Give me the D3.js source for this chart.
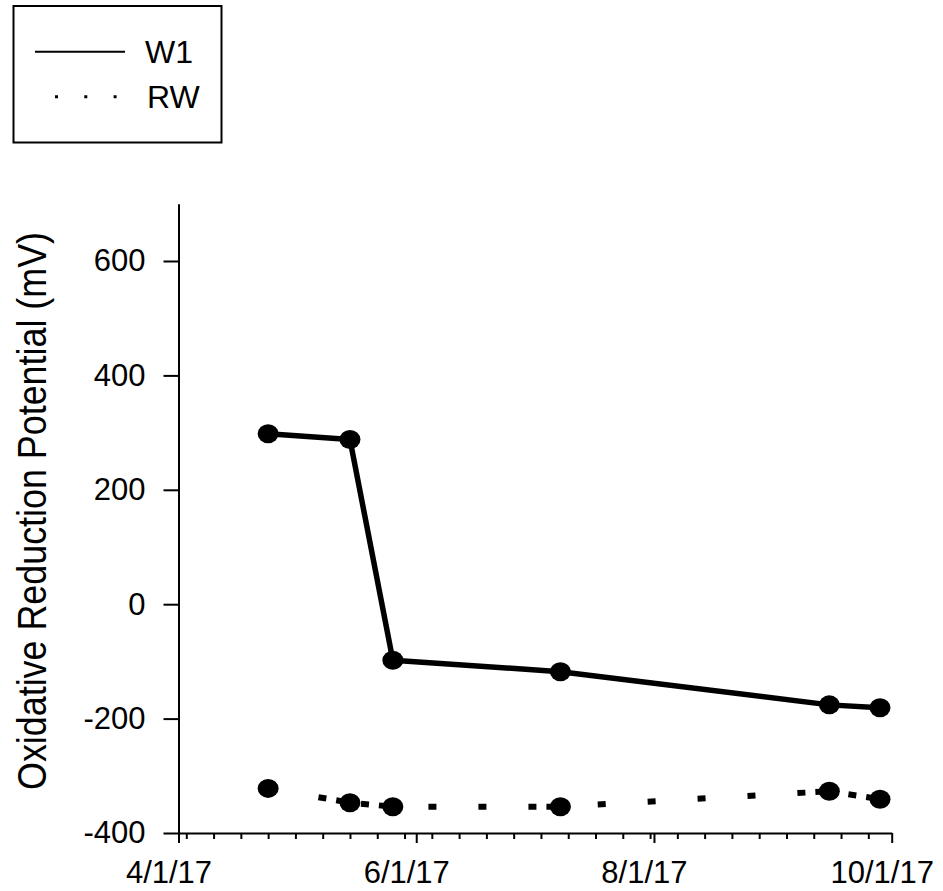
<!DOCTYPE html>
<html>
<head>
<meta charset="utf-8">
<script src="https://cdn.jsdelivr.net/npm/d3@7"></script>
<style>
  html, body { margin: 0; padding: 0; background: #fff; }
  svg { display: block; font-family: "Liberation Sans", Arial, sans-serif; }
</style>
</head>
<body>
<svg id="chart" width="943" height="891"></svg>
<script>
// ---- data ----
const sampleDates = ["2017-04-24", "2017-05-15", "2017-05-26", "2017-07-08", "2017-09-15", "2017-09-28"];
const w1Values = [298, 288, -98, -118, -176, -181];
const rwValues = [-322, -347, -354, -354, -327, -341];
const seriesNames = ["W1", "RW"];
const yTickValues = [-400, -200, 0, 200, 400, 600];
const xTickLabels = ["4/1/17", "6/1/17", "8/1/17", "10/1/17"];
const yTitle = "Oxidative Reduction Potential (mV)";

const parseDay = s => { const [y, m, d] = s.split("-").map(Number); return new Date(y, m - 1, d); };
const parseLabel = s => { const [m, d, y] = s.split("/").map(Number); return new Date(2000 + y, m - 1, d); };
const dates = sampleDates.map(parseDay);
const majorDates = xTickLabels.map(parseLabel);

const svg = d3.select("#chart");

const x = d3.scaleTime()
  .domain([majorDates[0], majorDates[majorDates.length - 1]])
  .range([178.5, 891.7]);
const y = d3.scaleLinear().domain([-400, 700]).range([833, 203.8]);

// ---- y axis ----
const yAxis = svg.append("g")
  .attr("transform", `translate(${x.range()[0]},0)`)
  .call(d3.axisLeft(y).tickValues(yTickValues).tickSize(15).tickPadding(18).tickSizeOuter(0)
    .tickFormat(d => String(d)));
yAxis.select(".domain").attr("stroke", "#000").attr("stroke-width", 2);
yAxis.selectAll(".tick line").attr("stroke", "#000").attr("stroke-width", 2);
yAxis.selectAll(".tick text")
  .attr("font-size", 31).attr("fill", "#000")
  .attr("font-family", "Liberation Sans, Arial, sans-serif");

// ---- x axis: minor weekly ticks ----
const minorDates = d3.timeMonday.range(x.domain()[0], x.domain()[1]);
const xMinor = svg.append("g")
  .attr("transform", `translate(0,${y.range()[0]})`)
  .call(d3.axisBottom(x).tickValues(minorDates).tickSize(6).tickFormat("").tickSizeOuter(0));
xMinor.select(".domain").remove();
xMinor.selectAll(".tick line").attr("stroke", "#000").attr("stroke-width", 2);

// ---- x axis: major ticks ----
const xAxis = svg.append("g")
  .attr("transform", `translate(0,${y.range()[0]})`)
  .call(d3.axisBottom(x).tickValues(majorDates).tickSize(10).tickSizeOuter(0)
    .tickFormat((d, i) => xTickLabels[i]));
xAxis.select(".domain").attr("stroke", "#000").attr("stroke-width", 2);
xAxis.selectAll(".tick line").attr("stroke", "#000").attr("stroke-width", 2);
xAxis.selectAll(".tick text")
  .attr("font-size", 31).attr("fill", "#000")
  .attr("font-family", "Liberation Sans, Arial, sans-serif")
  .attr("y", 50).attr("dy", 0).attr("dx", -10);

// ---- y title ----
svg.append("text")
  .attr("transform", `translate(46,511) rotate(-90)`)
  .attr("text-anchor", "middle")
  .attr("font-size", 40)
  .attr("textLength", 558)
  .attr("lengthAdjust", "spacingAndGlyphs")
  .attr("fill", "#000")
  .text(yTitle);

// ---- series ----
const w1 = dates.map((d, i) => ({ date: d, value: w1Values[i] }));
const rw = dates.map((d, i) => ({ date: d, value: rwValues[i] }));
const line = d3.line().x(d => x(d.date)).y(d => y(d.value));

svg.append("path")
  .datum(w1)
  .attr("d", line)
  .attr("fill", "none")
  .attr("stroke", "#000")
  .attr("stroke-width", 5.5)
  .attr("stroke-linejoin", "round");

// dotted RW: each segment drawn from its end point backwards
const rwSegments = d3.pairs(rw).map(([a, b]) => [b, a]);
svg.append("g").selectAll("path")
  .data(rwSegments)
  .join("path")
  .attr("d", line)
  .attr("fill", "none")
  .attr("stroke", "#000")
  .attr("stroke-width", 6)
  .attr("stroke-dasharray", "14 10 8 42 8 42 8 42 8 42 8 42 8 42 8 42");

[w1, rw].forEach(series => {
  svg.append("g").selectAll("ellipse")
    .data(series)
    .join("ellipse")
    .attr("cx", d => x(d.date))
    .attr("cy", d => y(d.value))
    .attr("rx", 10.5)
    .attr("ry", 9.5)
    .attr("fill", "#000");
});

// ---- legend ----
const legend = svg.append("g");
legend.append("rect")
  .attr("x", 13.5).attr("y", 6).attr("width", 208).attr("height", 136.5)
  .attr("fill", "#fff").attr("stroke", "#000").attr("stroke-width", 2);
legend.append("line")
  .attr("x1", 35).attr("x2", 125).attr("y1", 51.7).attr("y2", 51.7)
  .attr("stroke", "#000").attr("stroke-width", 2);
legend.append("line")
  .attr("x1", 55).attr("x2", 125).attr("y1", 96.7).attr("y2", 96.7)
  .attr("stroke", "#000").attr("stroke-width", 3)
  .attr("stroke-dasharray", "3 26.3");
legend.append("text").attr("x", 145).attr("y", 63.3)
  .attr("font-size", 32).attr("fill", "#000").text(seriesNames[0]);
legend.append("text").attr("x", 147).attr("y", 108)
  .attr("font-size", 32).attr("fill", "#000").text(seriesNames[1]);
</script>
</body>
</html>
